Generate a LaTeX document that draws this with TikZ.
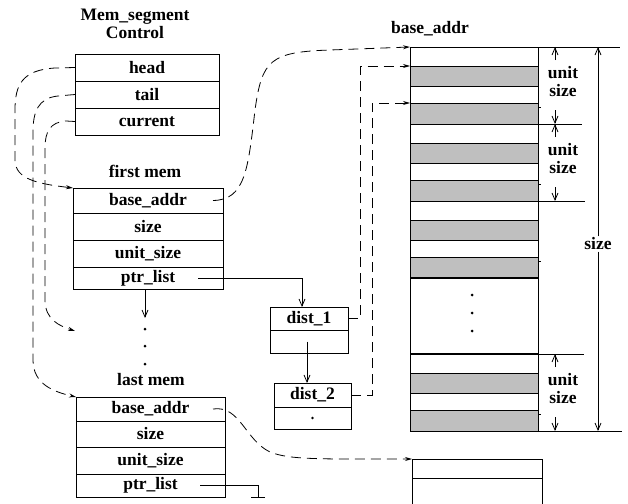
\documentclass[tikz,border=0pt]{standalone}
\usepackage{fontspec}
\setmainfont{Liberation Serif}
\usetikzlibrary{arrows.meta,positioning}

\begin{document}
\begin{tikzpicture}[x=1pt,y=-1pt,node distance=0pt,line width=0.8pt,
  font=\fontsize{17.5}{18}\selectfont\bfseries,
  cell/.style={draw,inner sep=0pt,outer sep=0pt,minimum width=#1},
  ptr/.style={-{Straight Barb[length=7pt,width=6pt]}},
  link/.style={dash pattern=on 10pt off 6pt,-{Stealth[length=7pt,width=4pt]}},
  band/.style={draw,fill=gray!50}]
\path[use as bounding box,clip] (0,0) rectangle (628,503);

% control block
\node[align=center] (ctrltitle) at (135,24) {Mem\_segment\\Control};
\node[cell=144,minimum height=27] (head) at (147,67.5) {head};
\node[cell=144,minimum height=27,below=of head] (tail) {tail};
\node[cell=144,minimum height=27,below=of tail] (current) {current};

% first mem
\node (firsttitle) at (145,171) {first mem};
\node[cell=150,minimum height=25] (fbase) at (148,200.5) {base\_addr};
\node[cell=150,minimum height=27,below=of fbase] (fsize) {size};
\node[cell=150,minimum height=27,below=of fsize] (funit) {unit\_size};
\node[cell=150,minimum height=22,below=of funit] (fptr) {ptr\_list};

\coordinate (gap) at (145,318);
\draw[ptr] (fptr.south -| gap) -- (gap);
\foreach \y in {329,346,364} \fill (145,\y) circle (1.5);

% last mem
\node (lasttitle) at (151,380) {last mem};
\node[cell=149,minimum height=24] (lbase) at (150.5,409) {base\_addr};
\node[cell=149,minimum height=26,below=of lbase] (lsize) {size};
\node[cell=149,minimum height=27,below=of lsize] (lunit) {unit\_size};
\node[cell=149,minimum height=23,below=of lunit] (lptr) {ptr\_list};
\coordinate (nilend) at (258,498);
\draw[-{Bar[width=14pt]}] ([xshift=-25pt]lptr.east) -| (nilend);

% pointer list
\node[cell=78,minimum height=23] (d1) at (309,318.5) {dist\_1};
\node[cell=78,minimum height=23,below=of d1] (d1low) {};
\node[cell=77,minimum height=24] (d2) at (312.5,395) {dist\_2};
\node[cell=77,minimum height=22,below=of d2] (d2low) {};
\fill (d2low.center) circle (1.3);
\draw[ptr] ([xshift=-25pt]fptr.east) -| ([xshift=-7pt]d1.north);
\draw[ptr] ([xshift=-2pt]d1low.center) -- ([xshift=-2pt]d1low.center |- d2.north);

% memory
\node (memtitle) at (430,29) {base\_addr};
\node[cell=128,minimum height=384] (mem) at (474,239) {};
\foreach \a in {47,124,201,354} {
  \draw[band] (410,\a+19) rectangle (538,\a+39);
  \draw[band] (410,\a+56) rectangle (538,\a+77);
  \draw (538,\a+60) -- ++(3,0);
}
\draw[line width=1.4pt] (410,278) -- (538,278);
\draw[line width=1.4pt] (410,354) -- (538,354);
\foreach \y in {295,313,331} \fill (472,\y) circle (1.5);
\coordinate (slot1) at (410,66);
\coordinate (slot2) at (410,103);

% dimensions
\draw (538,47) -- (620,47);
\draw (538,124) -- (582,124);
\draw (538,201) -- (585,201);
\draw (538,354) -- (584,354);
\draw (538,431) -- (622,431);
\foreach \a/\b in {47/124,124/201,354/431} {
  \node[align=center] (unit\a) at (563,\a+35) {unit\\size};
  \draw[ptr] (555,\a+13) -- (555,\a);
  \draw[ptr] (555,\b-14) -- (555,\b);
}
\node[fill=white,inner sep=1pt] (sizelbl) at (598,244) {size};
\draw[ptr] (sizelbl) -- (598,47);
\draw[ptr] (sizelbl) -- (598,431);

% next block
\node[cell=130,minimum height=60] (nextmem) at (477,489) {};
\draw (nextmem.west |- 0,478) -- (nextmem.east |- 0,478);

% dashed links
\coordinate (curpos) at (75,331);
\draw[link] (head.west) -- (55,68) .. controls (22,70) and (15,85) .. (15,110)
  -- (15,160) .. controls (15,180) and (40,184) .. (fbase.north west);
\draw[link] (tail.west) -- (58,96) .. controls (38,98) and (33,112) .. (33,132)
  -- (33,360) .. controls (33,385) and (55,392) .. (lbase.north west);
\draw[link] (current.west) -- (66,121) .. controls (50,122) and (45,132) .. (45,148)
  -- (45,300) .. controls (45,320) and (60,326) .. (curpos);
\draw[link] ([xshift=-10pt]fbase.east) .. controls (245,200) and (248,170) .. (255,110)
  .. controls (262,60) and (270,52) .. (330,50) -- (mem.north west);
\draw[link] ([xshift=-12pt]lbase.east) .. controls (240,405) and (245,440) .. (270,452)
  .. controls (290,460) and (320,459) .. (nextmem.north west);
\draw[link] (d1.east) -- ++(12,0) |- (slot1);
\draw[link] (d2.east) -- ++(21,0) |- (slot2);
\end{tikzpicture}
\end{document}
